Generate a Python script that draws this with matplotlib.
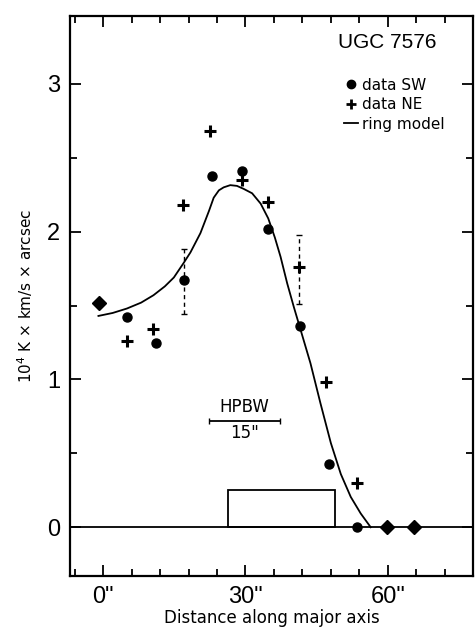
"""UGC 7576: CO integrated intensity along the major axis, data vs. ring model."""
import matplotlib

matplotlib.use("Agg")
import matplotlib.pyplot as plt
from matplotlib.lines import Line2D
from matplotlib.ticker import MultipleLocator

plt.rcParams["font.family"] = ["DejaVu Sans"]
NARROW = ["Liberation Sans", "DejaVu Sans"]

# SW side (filled circles)
SW_X = [5.0, 11.2, 17.1, 22.9, 29.2, 34.8, 41.4, 47.6, 53.6]
SW_Y = [1.42, 1.25, 1.67, 2.38, 2.41, 2.02, 1.36, 0.43, 0.0]
# NE side (crosses)
NE_X = [5.0, 10.6, 16.8, 22.5, 29.2, 34.8, 41.3, 47.0, 53.5]
NE_Y = [1.26, 1.34, 2.18, 2.68, 2.35, 2.20, 1.76, 0.98, 0.30]
# both sides coincide (diamonds)
BOTH_X = [-0.8, 59.8, 65.6]
BOTH_Y = [1.52, 0.0, 0.0]

# error bars (dashed)
ERR_X = [17.1, 41.3]
ERR_Y = [1.67, 1.76]
ERR_LO = [0.23, 0.25]
ERR_HI = [0.21, 0.22]

# ring model curve
MODEL_X = [-1.0, 2.0, 5.0, 8.0, 10.6, 13.0, 14.9, 17.0, 18.4, 20.5, 22.3,
           23.3, 24.4, 25.4, 26.8, 28.2, 29.6, 31.4, 33.2, 34.8, 36.2, 37.4,
           38.8, 40.2, 41.4, 43.7, 45.8, 48.0, 50.1, 52.2, 54.3, 56.4]
MODEL_Y = [1.43, 1.45, 1.48, 1.52, 1.57, 1.63, 1.69, 1.79, 1.86, 1.99, 2.14,
           2.23, 2.28, 2.30, 2.315, 2.31, 2.29, 2.26, 2.19, 2.09, 1.96, 1.83,
           1.65, 1.49, 1.36, 1.11, 0.84, 0.57, 0.36, 0.205, 0.093, 0.0]

# ring extent (box)
RING_LEFT = 26.3
RING_RIGHT = 48.9
RING_HEIGHT = 0.25

# beam
HPBW_CENTER = 29.8
HPBW = 15.0
HPBW_Y = 0.72


def make_figure(out_path):
    fig = plt.figure(figsize=(4.76, 6.3), dpi=100)
    ax = fig.add_axes([0.147, 0.0857, 0.847, 0.889])

    ax.axhline(0, color="black", lw=1.3, zorder=1)
    ax.bar([RING_LEFT], [RING_HEIGHT], width=RING_RIGHT - RING_LEFT,
           align="edge", fill=False, edgecolor="black", lw=1.3)

    ax.plot(MODEL_X, MODEL_Y, color="black", lw=1.3,
            solid_joinstyle="round")

    eb = ax.errorbar(ERR_X, ERR_Y, yerr=[ERR_LO, ERR_HI], fmt="none",
                     ecolor="black", elinewidth=1.0, capsize=2.5, capthick=1.0)
    eb[2][0].set_linestyle((0, (3, 2.5)))

    ax.plot(SW_X, SW_Y, "o", color="black", ms=6.5, zorder=3)
    ax.plot(NE_X, NE_Y, "+", color="black", ms=8, mew=2.2, zorder=3)
    ax.plot(BOTH_X, BOTH_Y, "D", color="black", ms=7, zorder=3)

    # HPBW bar
    ax.errorbar([HPBW_CENTER], [HPBW_Y], xerr=[HPBW / 2], fmt="none",
                ecolor="black", elinewidth=1.3, capsize=2.5, capthick=1.0)
    ax.text(HPBW_CENTER, HPBW_Y + 0.03, "HPBW", ha="center", va="bottom",
            fontsize=12)
    ax.text(HPBW_CENTER, HPBW_Y - 0.02, '15"', ha="center", va="top",
            fontsize=12)

    ax.text(59.8, 3.28, "UGC 7576", ha="center", va="center", fontsize=15,
            family=NARROW)

    handles = [
        Line2D([], [], marker="o", ls="none", color="black", ms=6),
        Line2D([], [], marker="+", ls="none", color="black", ms=7, mew=2),
        Line2D([], [], color="black", lw=1.3),
    ]
    ax.legend(handles, ["data SW", "data NE", "ring model"], loc="upper left",
              bbox_to_anchor=(0.68, 0.89), frameon=False, fontsize=11,
              handlelength=0.9, handletextpad=0.25, labelspacing=0.3,
              borderpad=0, borderaxespad=0)

    ax.set_xlim(-7, 78)
    ax.set_ylim(-0.33, 3.46)
    ax.set_xticks([0, 30, 60])
    ax.set_xticklabels(['0"', '30"', '60"'], fontsize=17, family=NARROW)
    ax.xaxis.set_minor_locator(MultipleLocator(6))
    ax.set_yticks([0, 1, 2, 3])
    ax.set_yticklabels(["0", "1", "2", "3"], fontsize=17, family=NARROW)
    ax.yaxis.set_minor_locator(MultipleLocator(0.5))
    ax.tick_params(which="both", direction="in", top=True, right=True,
                   width=1.3)
    ax.tick_params(which="major", length=8, pad=7)
    ax.tick_params(which="minor", length=5)
    for sp in ax.spines.values():
        sp.set_linewidth(1.6)

    ax.set_xlabel("Distance along major axis", fontsize=12, labelpad=1)
    ax.set_ylabel(r"10$^4$ K $\times$ km/s $\times$ arcsec", fontsize=11,
                  labelpad=9)

    fig.savefig(out_path, dpi=100, facecolor="white")
    plt.close(fig)


if __name__ == "__main__":
    make_figure("out.png")
